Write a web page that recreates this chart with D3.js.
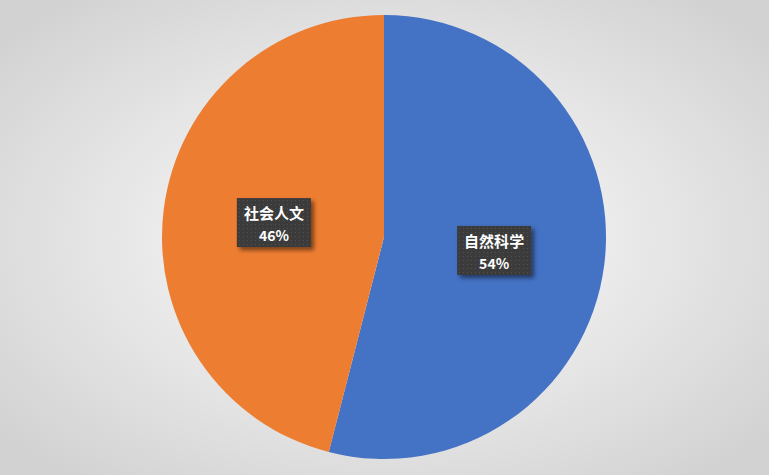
<!DOCTYPE html>
<html>
<head>
<meta charset="utf-8">
<style>
body { margin: 0; }
.lbl { fill: #fff; font-family: "Noto Sans CJK SC", sans-serif; font-weight: bold; }
</style>
<script src="https://cdnjs.cloudflare.com/ajax/libs/d3/7.8.5/d3.min.js"></script>
</head>
<body>
<svg width="769" height="475"></svg>
<script>
var categories = ["自然科学", "社会人文"];
var values = [54, 46];
var colors = ["#4472C4", "#ED7D31"];

var svg = d3.select("svg");
var defs = svg.append("defs");
var grad = defs.append("radialGradient")
  .attr("id", "bg").attr("cx", "50%").attr("cy", "50%").attr("r", "65%");
grad.append("stop").attr("offset", "0%").attr("stop-color", "#ffffff");
grad.append("stop").attr("offset", "100%").attr("stop-color", "#d2d2d2");

var pat = defs.append("pattern")
  .attr("id", "dots").attr("width", 4).attr("height", 4)
  .attr("patternUnits", "userSpaceOnUse");
pat.append("rect").attr("width", 4).attr("height", 4).attr("fill", "#3a3a3a");
pat.append("rect").attr("x", 1).attr("y", 1).attr("width", 1).attr("height", 1).attr("fill", "#555");

var shadow = defs.append("filter").attr("id", "sh")
  .attr("x", "-20%").attr("y", "-20%").attr("width", "150%").attr("height", "150%");
shadow.append("feDropShadow").attr("dx", 3).attr("dy", 3)
  .attr("stdDeviation", 2).attr("flood-color", "#000").attr("flood-opacity", 0.5);

svg.append("rect").attr("width", 769).attr("height", 475).attr("fill", "url(#bg)");

var R = 222;
var g = svg.append("g").attr("transform", "translate(384,237)");

var pie = d3.pie().sort(null).value(function(d) { return d; });
var arc = d3.arc().innerRadius(0).outerRadius(R);
var arcs = pie(values);

g.selectAll(".slice")
  .data(arcs)
  .enter()
  .append("path")
  .attr("class", "slice")
  .attr("d", arc)
  .attr("fill", function(d, i) { return colors[i]; });

var total = d3.sum(values);
var labels = g.selectAll(".label")
  .data(arcs)
  .enter()
  .append("g")
  .attr("class", "label")
  .attr("transform", function(d) {
    var c = arc.centroid(d);
    return "translate(" + c[0] + "," + c[1] + ")";
  });

labels.append("rect")
  .attr("x", -37).attr("y", -25)
  .attr("width", 74).attr("height", 49)
  .attr("fill", "url(#dots)")
  .attr("filter", "url(#sh)");

labels.append("text")
  .attr("class", "lbl")
  .attr("text-anchor", "middle")
  .attr("y", -4)
  .attr("font-size", 15)
  .text(function(d, i) { return categories[i]; });

labels.append("text")
  .attr("class", "lbl")
  .attr("text-anchor", "middle")
  .attr("y", 18)
  .attr("font-size", 14)
  .text(function(d, i) { return Math.round(values[i] / total * 100) + "%"; });
</script>
</body>
</html>
